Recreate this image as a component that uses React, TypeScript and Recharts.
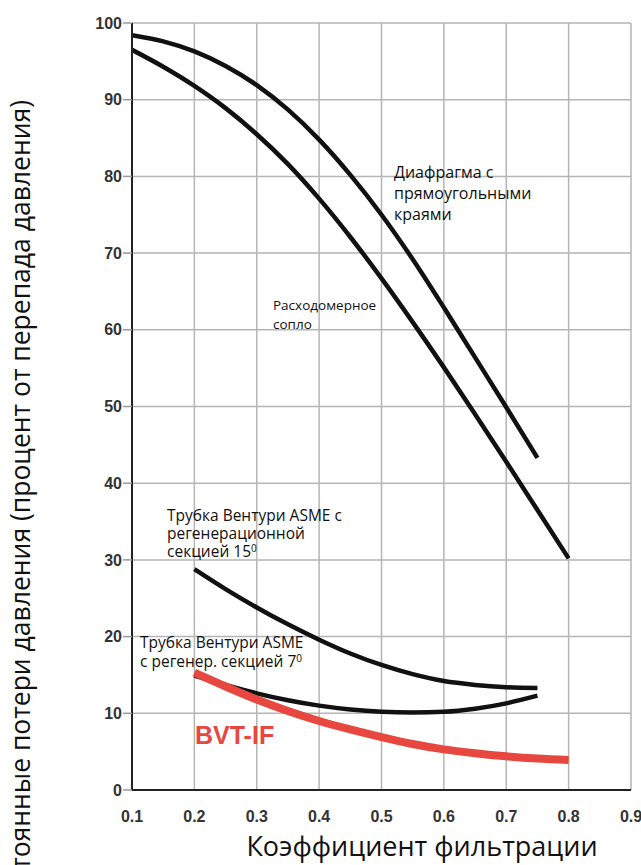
import React from "react";
import { LineChart, Line, XAxis, YAxis, CartesianGrid } from "recharts";

const xValues = [0.1, 0.15, 0.2, 0.25, 0.3, 0.35, 0.4, 0.45, 0.5, 0.55, 0.6, 0.65, 0.7, 0.75, 0.8];
const diaphragm = [98.4, 97.6, 96.3, 94.4, 91.9, 88.7, 84.8, 80.2, 75.0, 69.2, 62.9, 56.4, 49.9, 43.3, null];
const nozzle = [96.5, 94.3, 91.8, 88.9, 85.5, 81.6, 77.1, 72.1, 66.7, 61.0, 55.1, 49.0, 42.8, 36.5, 30.2];
const venturi15 = [null, null, 28.8, 26.2, 23.8, 21.6, 19.6, 17.8, 16.3, 15.1, 14.2, 13.7, 13.4, 13.3, null];
const venturi7 = [null, null, 14.9, 13.7, 12.6, 11.7, 11.0, 10.5, 10.2, 10.1, 10.2, 10.6, 11.3, 12.3, null];
const bvtif = [null, null, 15.3, 13.5, 11.8, 10.3, 9.0, 7.9, 6.9, 6.0, 5.3, 4.8, 4.4, 4.1, 3.9];

const xTicks = [0.1, 0.2, 0.3, 0.4, 0.5, 0.6, 0.7, 0.8, 0.9];
const yTicks = [0, 10, 20, 30, 40, 50, 60, 70, 80, 90, 100];

const xTitle = "Коэффициент фильтрации";
const yTitle = "Постоянные потери давления (процент от перепада давления)";

const data = xValues.map((x, i) => ({
  x,
  diaphragm: diaphragm[i],
  nozzle: nozzle[i],
  venturi15: venturi15[i],
  venturi7: venturi7[i],
  bvtif: bvtif[i],
}));

const tickFont = {
  fontFamily: "'Liberation Sans Narrow', 'Liberation Sans', Arial, sans-serif",
  fontWeight: 700,
  fontSize: 16,
  fill: "#333",
};

const noteFont = "'Open Sans', 'Noto Sans', sans-serif";

export default function App() {
  return (
    <div style={{ position: "absolute", left: 0, top: 0, width: 641, height: 865, background: "#fff", overflow: "hidden" }}>
      <LineChart width={641} height={865} data={data} margin={{ top: 23, right: 10, bottom: 0, left: 0 }}>
        <CartesianGrid stroke="#b5b5b5" strokeWidth={1.5} verticalValues={xTicks} horizontalValues={yTicks} />
        <XAxis
          dataKey="x"
          type="number"
          domain={[0.1, 0.9]}
          ticks={xTicks}
          tickFormatter={(v: number) => v.toFixed(1)}
          height={75}
          tickLine={false}
          tickSize={0}
          tickMargin={21}
          axisLine={{ stroke: "#222", strokeWidth: 2 }}
          tick={tickFont}
          allowDataOverflow
        />
        <XAxis
          xAxisId="top"
          orientation="top"
          dataKey="x"
          type="number"
          domain={[0.1, 0.9]}
          ticks={xTicks}
          height={0}
          tick={false}
          tickLine={false}
          axisLine={{ stroke: "#222", strokeWidth: 2 }}
        />
        <YAxis
          type="number"
          domain={[0, 100]}
          ticks={yTicks}
          width={132}
          tickSize={9}
          tickMargin={1}
          tickLine={{ stroke: "#999", strokeWidth: 1.5 }}
          axisLine={{ stroke: "#222", strokeWidth: 2 }}
          tick={tickFont}
        />
        <YAxis
          yAxisId="right"
          orientation="right"
          type="number"
          domain={[0, 100]}
          width={0}
          tick={false}
          tickLine={false}
          axisLine={{ stroke: "#222", strokeWidth: 2 }}
        />
        <Line dataKey="diaphragm" type="monotone" stroke="#111" strokeWidth={4.5} dot={false} isAnimationActive={false} />
        <Line dataKey="nozzle" type="monotone" stroke="#111" strokeWidth={4.5} dot={false} isAnimationActive={false} />
        <Line dataKey="venturi15" type="monotone" stroke="#111" strokeWidth={4.5} dot={false} isAnimationActive={false} />
        <Line dataKey="venturi7" type="monotone" stroke="#111" strokeWidth={4.5} dot={false} isAnimationActive={false} />
        <Line dataKey="bvtif" type="monotone" stroke="#e8473f" strokeWidth={8} dot={false} isAnimationActive={false} />
      </LineChart>
      <svg width={641} height={865} style={{ position: "absolute", left: 0, top: 0, pointerEvents: "none" }}>
        <text x={422} y={856} textAnchor="middle" fontFamily={noteFont} fontSize={27} fill="#111">{xTitle}</text>
        <text x={30} y={100} textAnchor="end" transform="rotate(-90, 30, 100)" fontFamily={noteFont} fontSize={26.5} fill="#111">{yTitle}</text>
        <g fontFamily={noteFont} fill="#111">
          <text x={394} y={178} fontSize={16}>Диафрагма с</text>
          <text x={394} y={199} fontSize={16}>прямоугольными</text>
          <text x={394} y={220} fontSize={16}>краями</text>
          <text x={273} y={310} fontSize={13.5}>Расходомерное</text>
          <text x={273} y={329} fontSize={13.5}>сопло</text>
          <text x={167} y={521} fontSize={15.5}>Трубка Вентури ASME с</text>
          <text x={167} y={539} fontSize={15.5}>регенерационной</text>
          <text x={167} y={557} fontSize={15.5}>секцией 15<tspan dy={-5} fontSize={10}>0</tspan></text>
          <text x={140} y={648} fontSize={15.5}>Трубка Вентури ASME</text>
          <text x={140} y={667} fontSize={15.5}>с регенер. секцией 7<tspan dy={-5} fontSize={10}>0</tspan></text>
        </g>
        <text x={195} y={744} fontFamily="'Liberation Sans', Arial, sans-serif" fontWeight={700} fontSize={25} fill="#e8473f">BVT-IF</text>
      </svg>
    </div>
  );
}
